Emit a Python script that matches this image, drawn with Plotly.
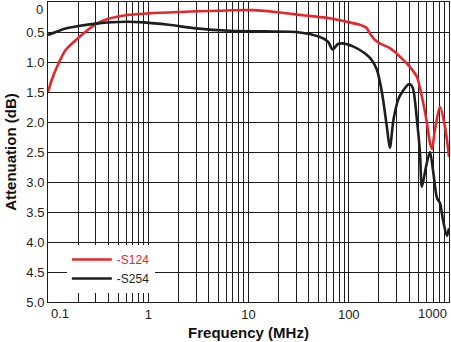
import plotly.graph_objects as go

# ---- data ----
freq_s124 = [0.1, 0.11, 0.123, 0.15, 0.2, 0.3, 0.4, 0.6, 1, 2, 5, 11, 19.5, 35, 65, 95,
             129, 150, 162, 182, 204, 257, 324, 407, 479, 537, 603, 646, 676, 724, 813, 912, 1000]
att_s124 = [1.5, 1.28, 1.08, 0.8, 0.6, 0.37, 0.28, 0.22, 0.19, 0.167, 0.145, 0.135, 0.17, 0.22, 0.27, 0.33,
            0.38, 0.43, 0.52, 0.63, 0.69, 0.77, 0.91, 1.08, 1.25, 1.58, 2.02, 2.35, 2.45, 2.13, 1.75, 2.08, 2.58]

freq_s254 = [0.1, 0.15, 0.2, 0.3, 0.6, 0.9, 1.6, 3, 6.5, 15, 30, 51, 62, 69, 78, 87, 110, 129, 151,
             170, 191, 214, 240, 257, 280, 316, 389, 410, 437, 479, 513, 537, 589, 646, 692, 760,
             813, 870, 955, 1000]
att_s254 = [0.55, 0.44, 0.4, 0.36, 0.33, 0.34, 0.38, 0.44, 0.48, 0.49, 0.5, 0.58, 0.66, 0.79, 0.7, 0.69, 0.74, 0.8, 0.88,
            0.97, 1.13, 1.5, 2.08, 2.43, 1.95, 1.6, 1.38, 1.37, 1.44, 1.97, 2.5, 3.08, 2.75, 2.5, 2.8, 3.27,
            3.35, 3.63, 3.9, 3.77]

series_names = ["-S124", "-S254"]
series_colors = ["#e8262a", "#1e1e1e"]

y_tickvals = [0, 0.5, 1.0, 1.5, 2.0, 2.5, 3.0, 3.5, 4.0, 4.5, 5.0]
y_ticktext = ["0", "0.5", "1.0", "1.5", "2.0", "2.5", "3.0", "3.5", "4.0", "4.5", "5.0"]

x_decades = [0.1, 1, 10, 100, 1000]
x_decade_labels = ["0.1", "1", "10", "100", "1000"]

# gridline positions (1..9 per decade)
x_grid = []
x_gridtext = []
for d in x_decades[:-1]:
    for m in range(1, 10):
        x_grid.append(d * m)
        x_gridtext.append("")
x_grid.append(1000)
x_gridtext.append("")
for v, t in zip(x_decades[1:-1], x_decade_labels[1:-1]):
    x_gridtext[x_grid.index(v)] = t

# top y label "0" drawn as annotation so it isn't clipped at the top edge
y_axis_text = [""] + y_ticktext[1:]

FONT = "Liberation Sans, Arial, Helvetica, sans-serif"
GRID = "#1c1c1c"
TICKC = "#222222"

fig = go.Figure()
for f, a, n, c in [(freq_s124, att_s124, series_names[0], series_colors[0]),
                   (freq_s254, att_s254, series_names[1], series_colors[1])]:
    fig.add_trace(go.Scatter(
        x=f, y=a, mode="lines",
        name=f'<span style="color:{c}">{n}</span>',
        line=dict(color=c, width=2.6, shape="spline", smoothing=0.8),
    ))

fig.update_layout(
    width=451, height=342, autosize=False,
    margin=dict(l=48, r=2, t=2, b=40),
    paper_bgcolor="white", plot_bgcolor="white",
    font=dict(family=FONT, size=13, color=TICKC),
    showlegend=True,
    legend=dict(
        x=0.047, y=0.19, xanchor="left", yanchor="top",
        bgcolor="white", borderwidth=0,
        font=dict(family=FONT, size=12),
        tracegroupgap=0, itemwidth=40,
    ),
)

fig.update_xaxes(
    type="log", range=[-1, 3],
    tickmode="array", tickvals=x_grid, ticktext=x_gridtext,
    showgrid=True, gridcolor=GRID, gridwidth=1,
    showline=True, linecolor=GRID, linewidth=1, mirror=True,
    ticks="", zeroline=False,
    tickfont=dict(size=13, color=TICKC),
    title=dict(text="<b>Frequency (MHz)</b>", font=dict(size=15, color="#111111"), standoff=6),
)
fig.update_yaxes(
    range=[5.0, 0], tickmode="array", tickvals=y_tickvals, ticktext=y_axis_text,
    showgrid=True, gridcolor=GRID, gridwidth=1,
    showline=True, linecolor=GRID, linewidth=1, mirror=True,
    ticks="", zeroline=False,
    tickfont=dict(size=13, color=TICKC),
    title=dict(text="<b>Attenuation (dB)</b>", font=dict(size=15, color="#111111"), standoff=6),
)

# edge labels aligned inside the plot edges like the reference
fig.add_annotation(x=-1, y=0, xref="x", yref="paper", yanchor="top", xanchor="left",
                   text=x_decade_labels[0], showarrow=False, yshift=-2, xshift=1,
                   font=dict(family=FONT, size=13, color=TICKC))
fig.add_annotation(x=3, y=0, xref="x", yref="paper", yanchor="top", xanchor="right",
                   text=x_decade_labels[-1], showarrow=False, yshift=-2, xshift=0,
                   font=dict(family=FONT, size=13, color=TICKC))
fig.add_annotation(x=0, y=y_tickvals[0], xref="paper", yref="y", yanchor="top", xanchor="right",
                   text=y_ticktext[0], showarrow=False, xshift=-3, yshift=2,
                   font=dict(family=FONT, size=13, color=TICKC))

fig.write_html("out.html")
